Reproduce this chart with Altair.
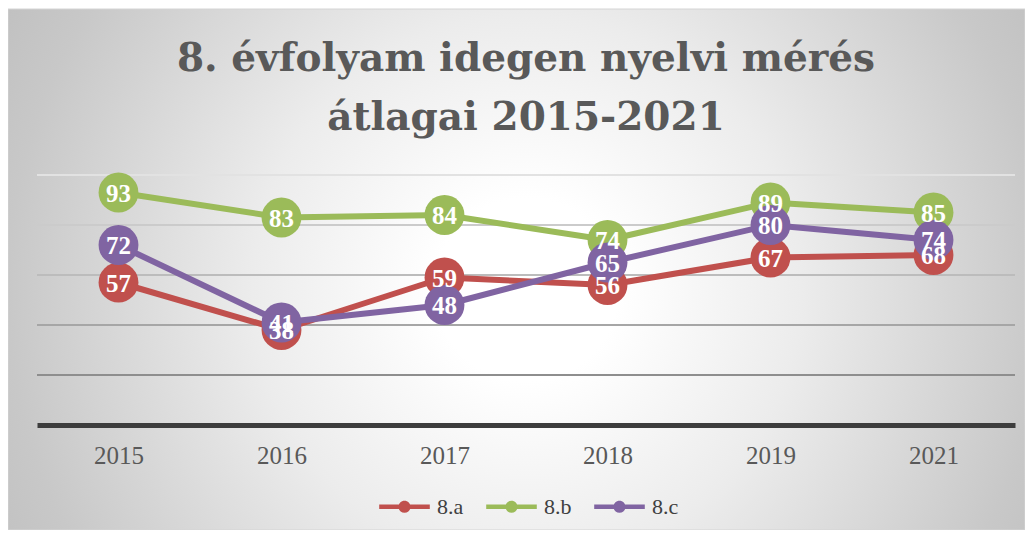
import altair as alt
import pandas as pd

years = ["2015", "2016", "2017", "2018", "2019", "2021"]
series_names = ["8.a", "8.b", "8.c"]
vals_a = [57, 38, 59, 56, 67, 68]
vals_b = [93, 83, 84, 74, 89, 85]
vals_c = [72, 41, 48, 65, 80, 74]
colors = ["#C0504D", "#9BBB59", "#8064A2"]
title_line1 = "8. évfolyam idegen nyelvi mérés"
title_line2 = "átlagai 2015-2021"
grid_values = [20, 40, 60, 80, 100]

rows = []
for name, vals in zip(series_names, [vals_a, vals_b, vals_c]):
    for yr, v in zip(years, vals):
        rows.append({"year": yr, "series": name, "value": v})
df = pd.DataFrame(rows)
grid_df = pd.DataFrame({"v": grid_values})

W, H = 978, 250

legend_path = (
    "M-0.92,-0.08 L0.92,-0.08 L0.92,0.08 L-0.92,0.08 Z "
    "M0.22,0 C0.22,0.1215 0.1215,0.22 0,0.22 C-0.1215,0.22 -0.22,0.1215 -0.22,0 "
    "C-0.22,-0.1215 -0.1215,-0.22 0,-0.22 C0.1215,-0.22 0.22,-0.1215 0.22,0 Z"
)

x_enc = alt.X(
    "year:O", sort=years,
    scale=alt.Scale(type="point", padding=0.5),
    axis=alt.Axis(title=None, ticks=False, labelAngle=0, labelFont="Liberation Serif",
                  labelFontSize=25, labelColor="#595959", labelPadding=18,
                  domainColor="#3d3d3d", domainWidth=5, grid=False, zindex=1),
)
y_scale = alt.Scale(domain=[0, 100], nice=False)
y_enc = alt.Y("value:Q", scale=y_scale, axis=None)

gradient = {
    "gradient": "radial",
    "x1": 0.51, "y1": 0.52, "r1": 0,
    "x2": 0.51, "y2": 0.52, "r2": 0.6,
    "stops": [
        {"offset": 0, "color": "#ffffff"},
        {"offset": 0.15, "color": "#ffffff"},
        {"offset": 0.45, "color": "#ececec"},
        {"offset": 0.85, "color": "#c8c8c8"},
        {"offset": 1, "color": "#bfbfbf"},
    ],
}

bg = alt.Chart(alt.Data(values=[{"k": 1}])).mark_rect(
    fill=gradient, stroke="#d4d4d4", strokeWidth=1
).encode(
    x=alt.value(-29), x2=alt.value(W + 10), y=alt.value(-166), y2=alt.value(H + 105)
)

grid = alt.Chart(grid_df).mark_rule(strokeWidth=2).encode(
    y=alt.Y("v:Q", scale=y_scale, axis=None),
    x=alt.value(0), x2=alt.value(W),
    stroke={"condition": [
        {"test": "datum.v >= 100", "value": "#e2e2e2"},
        {"test": "datum.v >= 80", "value": "#cbcbcb"},
        {"test": "datum.v >= 60", "value": "#bcbcbc"},
        {"test": "datum.v >= 40", "value": "#a6a6a6"}],
        "value": "#8e8e8e"},
)

title1 = alt.Chart(alt.Data(values=[{"k": 1}])).mark_text(
    font="DejaVu Serif", fontWeight="bold", fontSize=39, color="#595959",
    align="center", baseline="alphabetic"
).encode(x=alt.value(W / 2), y=alt.value(-104), text=alt.value(title_line1))

title2 = alt.Chart(alt.Data(values=[{"k": 1}])).mark_text(
    font="DejaVu Serif", fontWeight="bold", fontSize=39, color="#595959",
    align="center", baseline="alphabetic"
).encode(x=alt.value(W / 2), y=alt.value(-45), text=alt.value(title_line2))

base = alt.Chart(df)

color_scale = alt.Scale(domain=series_names, range=colors)

lines = base.mark_line(strokeWidth=6, strokeCap="round", strokeJoin="round").encode(
    x=x_enc, y=y_enc,
    color=alt.Color("series:N", scale=color_scale,
                    legend=alt.Legend(
                        orient="none", legendX=340, legendY=304,
                        direction="horizontal", title=None,
                        symbolType=legend_path, symbolSize=3025, symbolStrokeWidth=0,
                        symbolOpacity=1,
                        labelFont="Liberation Serif", labelFontSize=22, labelColor="#404040",
                        labelOffset=5, columnPadding=20, padding=0,
                    )),
)

points = base.mark_circle(size=1590, opacity=1).encode(
    x=x_enc, y=y_enc,
    color=alt.Color("series:N", scale=color_scale),
)

labels = base.mark_text(
    font="Liberation Serif", fontWeight="bold", fontSize=25, color="white",
    baseline="middle", align="center", dy=1
).encode(x=x_enc, y=y_enc, text=alt.Text("value:Q"), detail="series:N")

chart = alt.layer(bg, grid, title1, title2, lines, points, labels).properties(
    width=W, height=H,
    autosize=alt.AutoSizeParams(type="none"),
    padding={"left": 29, "top": 167, "right": 10, "bottom": 105},
).configure_view(stroke=None)

chart.save("out.html", embed_options={"renderer": "svg", "actions": False})
